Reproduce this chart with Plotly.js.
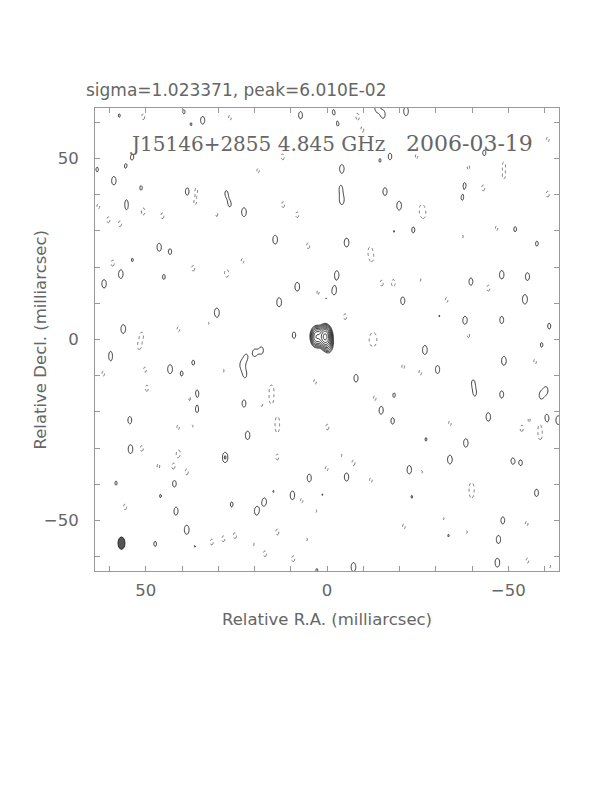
<!DOCTYPE html>
<html>
<head>
<meta charset="utf-8">
<script src="https://cdn.plot.ly/plotly-3.0.1.min.js"></script>
<style>html,body{margin:0;padding:0;background:#fff;}#chart{width:612px;height:792px;}</style>
</head>
<body>
<div id="chart"></div>
<script>
// ---- Data (milliarcsec; amplitudes in units of sigma unless noted) ----
const mapTitle = "sigma=1.023371, peak=6.010E-02";
const labelSource = "J15146+2855 4.845 GHz";
const labelDate = "2006-03-19";
const xTitle = "Relative R.A. (milliarcsec)";
const yTitle = "Relative Decl. (milliarcsec)";
const rms = 1.023371;          // mJy/beam
const peak = 60.10;            // mJy/beam
const beamCenter = [56.7, -56.3];
const beamFWHM = [1.9, 3.4];   // [RA, Dec] mas

// central source components (mJy/beam)
const coreX   = [0.5, 2.9, -0.4];
const coreY   = [0.8, 0.8, -1.6];
const coreAmp = [55.0, 24.0, 7.0];

// positive noise peaks (solid contours), in sigma
const posX = [39.5,37.5,34.3,7.3,57.3,53.7,55.6,63.4,58.8,51.3,38.5,27.8,26.8,55.3,55.3,22.9,14.3,46.3,43.3,53.7,56.9,45,61.5,8.2,13.2,30.4,56.2,9.1,0.3,
  -1.8,-3,-15.5,-21.8,-13.7,-43.4,-17.4,-14.6,-4.1,-3.8,-38,-37.3,-16,-4.1,-19.9,-23.8,-51.9,-57.9,-5.4,-18.5,-2.7,-48.2,-55.3,-39.7,-2,-20.9,-54.6,-31,-38.1,-48.2,-61.3,
  59.7,59.7,43.3,40.1,36.9,20,18,22.3,23.6,22.6,35.9,35.8,22.9,54.4,21.9,38.9,28.1,54.2,58.2,42.1,4.9,14.8,9.5,1.3,45.9,26.3,17.3,19.4,41.7,38.7,47.4,36.4,2.8,
  -27,-48.8,-59.2,-30.5,-8,-40.3,-40.8,-48.2,-59,-60.5,-18.5,-14.9,-18.1,-44.5,-60.6,-63.8,-27.3,-38.3,-33.9,-51.2,-53.5,-22.7,-5.4,-57.8,-23.4,-48.5,-47.3,-33.5,-47,-7.3];
const posY = [63,59.5,60.6,62,61.9,50.5,47.9,47,43.9,41.9,40.9,40.5,37.3,38.5,36,35.2,27.6,25.5,24.3,22,18.1,17.3,15.4,14.6,10.3,7.4,2.9,1.2,11.4,
  63,59.5,62.2,63.1,64,51.6,50.6,49.5,47.2,41.9,42.8,39,40.9,38.4,37,30.3,30.5,26.5,26.8,29.9,17.9,17.9,17.4,16,13.5,10.7,11.1,6.5,5.2,5.4,3.7,
  -3.5,-5.7,-8.2,-9.4,-6.4,-3.7,-3,-4.8,-7,-9.8,-14.9,-19.3,-17.7,-22.3,-26.5,-25.5,-32.6,-30.3,-39.7,-39.8,-38.3,-42,-43.1,-42.9,-43.3,-45.6,-44.9,-47.4,-47.4,-52.6,-56.5,-57.2,-63.8,
  -2.9,-5.9,-1.5,-8.3,-10.7,-11.8,-15,-15.2,-15.5,-14,-15.4,-19.5,-22.5,-21.4,-21.8,-22.3,-27.6,-28.6,-33.2,-33.6,-34.1,-36,-38,-42.4,-43.5,-50,-55.3,-54.2,-61.7,-62.9];
const posAmp = [3.2,3.1,3.75,3.65,3.15,3.3,3.15,3.25,3.9,3.25,3.75,3.15,3.15,2.4,2.4,4.0,4.0,3.8,3.4,3.15,4.0,3.3,3.9,4.0,4.05,4.15,4.0,3.5,3.05,
  3.15,3.1,3.65,4.0,3.5,3.4,3.5,3.15,3.9,3.15,3.2,3.1,3.75,3.75,4.0,3.4,3.3,3.3,4.0,3.05,3.8,3.9,3.75,3.65,3.75,3.75,4.15,3.05,4.0,3.65,3.4,
  2.3,2.3,4.05,3.3,3.3,3.4,3.4,3.05,3.05,3.25,3.65,3.65,3.65,3.65,3.9,3.05,4.45,4.0,3.2,3.65,3.75,3.05,4.0,3.05,3.2,3.3,3.75,3.9,3.9,4.05,3.3,3.05,3.15,
  4.05,4.0,3.25,3.8,3.75,3.1,3.1,3.65,3.3,3.3,3.25,3.9,3.5,3.9,3.9,4.0,3.15,3.9,4.0,3.4,3.3,3.9,3.9,3.65,3.1,3.6,3.8,3.1,4.0,4.0];

// negative noise peaks (dotted contours), magnitudes in sigma
const negX = [50.7,26.8,12.2,19,36.1,36.4,63.1,50.7,45.4,60.3,57.1,30.4,12.1,8.2,5.2,59.1,23.3,36.9,27.7,2.4,41,51.1,32.7,
  -8.4,-9.8,-60.9,-24.7,-39,-48.8,-48.8,-43.1,-60.9,-26.1,-26.6,-46.8,-11.9,-12.3,-15.1,-18.3,-25.7,-44.5,-33,-5,-39,-37.4,-12.8,
  51.8,61.7,50.2,49.7,28.6,37.8,33.7,15.3,15.3,18,3.3,13.7,13.7,41,37.3,-0.1,51.1,41,46.5,42.4,38.7,13.7,0.1,55.7,43.8,7,3,31.8,28.6,25.4,13.7,17.1,9.3,20.3,5.6,
  -12.6,-21,-25.7,-57.4,-13.2,-33.9,-53.7,-58.8,-58.8,-55.8,-7.3,-3.9,-12.1,-39.9,-39.9,-21.2,-38.5,-55.1,-55.3,-61.5,-32.1,-26.1];
const negY = [61.6,61.3,50.5,46.7,41.4,37.8,36.8,35.4,34.2,33.1,32,34.5,37.3,34.5,25.9,21.1,21.7,19.7,18.3,13,2.8,1.2,4.5,
  61.7,58,55.3,50.6,47.6,48.5,45,41.9,40.2,36.3,34.5,30.8,24.8,22.3,15.6,15.6,16.5,14.2,10.9,6.3,1.2,28.5,0.3,
  -2,-9.4,-8.3,-13.5,-8.6,-16.3,-18.8,-13.5,-16.8,-18.1,-11.7,-22,-25,-24.3,-24,-24.2,-30.1,-31.5,-35,-35.2,-36.6,-32.5,-35.7,-46.3,-45.4,-44.5,-47.4,-56,-55.1,-54.2,-53.2,-59.2,-60.6,-56.6,-55.3,
  -0.3,-7.5,-9.2,-6.1,-16.3,-23.2,-24.6,-24,-27,-22.1,-34.1,-32,-38.9,-40.3,-43,-51.7,-53.2,-50.9,-61.1,-62.7,-49.5,-36.6];
const negAmp = [3.4,3.3,3.4,3.25,3.1,3.1,3.3,3.6,3.4,3.4,3.4,3.15,3.4,3.4,3.4,3.5,3.3,3.4,3.75,3.3,3.3,3.3,3.1,
  3.4,3.25,3.3,3.25,3.25,3.05,3.05,3.4,3.4,3.05,3.05,3.25,3.05,3.05,3.4,3.6,3.1,3.4,3.3,3.4,3.3,3.1,3.1,
  3.3,3.3,3.3,3.4,3.1,3.4,3.1,3.4,3.4,3.1,3.3,3.05,3.05,3.4,3.4,3.4,3.4,3.6,3.3,3.4,3.4,3.4,3.3,3.4,3.1,3.3,3.1,3.4,3.4,3.4,3.4,3.4,3.4,3.1,3.1,
  3.3,3.3,3.3,3.3,3.4,3.3,3.4,3.05,3.05,3.1,3.4,3.1,3.3,3.05,3.05,3.3,3.1,3.3,3.3,3.1,3.1,3.1];

// axis ticks
const majorTicks = [50, 0, -50];
const majorLabels = ["50", "0", "\u221250"];
const minorTicks = [-60,-40,-30,-20,-10,10,20,30,40,60];

// ---- build restored map on a grid ----
const half = 64, step = 0.25;
const n = Math.round(2*half/step) + 1;
const gx = [], gy = [];
for (let i = 0; i < n; i++) { gx.push(-half + i*step); gy.push(-half + i*step); }
const field = [];
for (let j = 0; j < n; j++) field.push(new Float64Array(n));
const sx = 0.85, sy = 1.6;   // restoring-beam Gaussian widths used for rendering
function addComp(cx, cy, a, fx, fy) {
  const wx = 4.5*fx, wy = 4.5*fy;
  const i0 = Math.max(0, Math.floor((cx - wx + half)/step)), i1 = Math.min(n-1, Math.ceil((cx + wx + half)/step));
  const j0 = Math.max(0, Math.floor((cy - wy + half)/step)), j1 = Math.min(n-1, Math.ceil((cy + wy + half)/step));
  for (let j = j0; j <= j1; j++) {
    const dy = (gy[j]-cy)/fy;
    const row = field[j];
    for (let i = i0; i <= i1; i++) {
      const dx = (gx[i]-cx)/fx;
      row[i] += a*Math.exp(-0.5*(dx*dx+dy*dy));
    }
  }
}
for (let k = 0; k < coreX.length; k++) addComp(coreX[k], coreY[k], coreAmp[k], sx*1.05, sy*0.95);
for (let k = 0; k < posX.length; k++) addComp(posX[k], posY[k], posAmp[k]*rms, sx, sy);
for (let k = 0; k < negX.length; k++) addComp(negX[k], negY[k], -negAmp[k]*rms, sx, sy);

const lowest = 3*rms;
const zPos = [], zNeg = [];
for (let j = 0; j < n; j++) {
  const rp = new Array(n), rn = new Array(n);
  for (let i = 0; i < n; i++) {
    const v = field[j][i];
    rp[i] = v > 0.05 ? 2*Math.log2(v/lowest) : -20;
    rn[i] = -v;
  }
  zPos.push(rp); zNeg.push(rn);
}

const txtColor = "#666";
const axColor = "#999";
const sans = "DejaVu Sans, sans-serif";
const serif = "DejaVu Serif, Liberation Serif, serif";
const traces = [
  { type: "contour", x: gx, y: gy, z: zPos, showscale: false, hoverinfo: "skip",
    contours: { start: 0, end: 2*Math.log2(peak/lowest), size: 1, coloring: "none", showlabels: false },
    line: { color: "#222", width: 0.9, smoothing: 1 } },
  { type: "contour", x: gx, y: gy, z: zNeg, showscale: false, hoverinfo: "skip",
    contours: { start: lowest, end: lowest, size: 1, coloring: "none", showlabels: false },
    line: { color: "#666", width: 0.9, dash: "dot", smoothing: 1 } }
];

const axisBase = {
  showgrid: false, zeroline: false, showline: true, linecolor: axColor, linewidth: 1,
  mirror: "ticks", ticks: "inside", ticklen: 5, tickcolor: axColor, tickwidth: 1,
  tickmode: "array", tickvals: majorTicks, ticktext: majorLabels,
  tickfont: { family: sans, size: 16.5, color: txtColor },
  minor: { tickmode: "array", tickvals: minorTicks, ticks: "inside", ticklen: 5, tickcolor: axColor, tickwidth: 1 }
};

const layout = {
  width: 612, height: 792,
  margin: { l: 95, r: 53, t: 108, b: 221, pad: 0 },
  paper_bgcolor: "#fff", plot_bgcolor: "#fff",
  showlegend: false,
  xaxis: Object.assign({}, axisBase, { range: [64, -64], ticklabelstandoff: 4,
    title: { text: xTitle, standoff: 14, font: { family: sans, size: 16.5, color: txtColor } } }),
  yaxis: Object.assign({}, axisBase, { range: [-64, 64], ticklabelstandoff: 12 }),
  annotations: [
    { text: mapTitle, xref: "paper", yref: "paper", x: -0.024, y: 1.039, xanchor: "left", yanchor: "middle",
      showarrow: false, font: { family: sans, size: 17, color: txtColor } },
    { text: yTitle, xref: "paper", yref: "paper", x: -0.1185, y: 0.5, xanchor: "center", yanchor: "middle",
      textangle: -90, showarrow: false, font: { family: sans, size: 16.5, color: txtColor } },
    { text: labelSource, xref: "paper", yref: "paper", x: 0.071, y: 0.923, xanchor: "left", yanchor: "middle",
      showarrow: false, font: { family: serif, size: 20, color: txtColor } },
    { text: labelDate, xref: "paper", yref: "paper", x: 0.948, y: 0.923, xanchor: "right", yanchor: "middle",
      showarrow: false, font: { family: serif, size: 22, color: txtColor } }
  ],
  shapes: [
    { type: "circle", xref: "x", yref: "y",
      x0: beamCenter[0] - beamFWHM[0]/2, x1: beamCenter[0] + beamFWHM[0]/2,
      y0: beamCenter[1] - beamFWHM[1]/2, y1: beamCenter[1] + beamFWHM[1]/2,
      fillcolor: "#555", line: { color: "#222", width: 1 } }
  ]
};

Plotly.newPlot("chart", traces, layout, { staticPlot: true, displayModeBar: false });
</script>
</body>
</html>
